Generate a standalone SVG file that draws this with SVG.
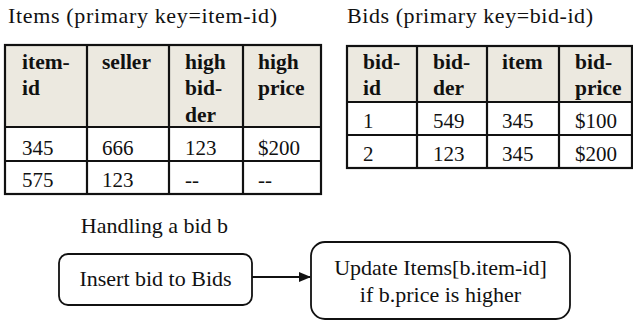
<svg xmlns="http://www.w3.org/2000/svg" width="633" height="322" viewBox="0 0 633 322">
<style>
text{font-family:'Liberation Serif','DejaVu Serif',serif;fill:#111}
.title{font-size:22px}
.hd{font-size:21.5px;font-weight:bold}
.cell{font-size:21px}
.hfill{fill:#ECE9E0}
.grid{stroke:#111;stroke-width:2.2;fill:none}
.box{fill:#fff;stroke:#111;stroke-width:1.8}
.lbl{font-size:22px;text-anchor:middle}
.conn{stroke:#111;stroke-width:1.8;fill:none}
</style>
<defs>
<marker id="arr" markerWidth="12" markerHeight="10" refX="11" refY="5" orient="auto" markerUnits="userSpaceOnUse">
<path d="M0,0 L12,5 L0,10 Z" fill="#111"/>
</marker>
</defs>
<g id="items-table">
<text class="title" x="8" y="23" textLength="269" lengthAdjust="spacing">Items (primary key=item-id)</text>
<rect class="hfill" x="5" y="45" width="316" height="82"/>
<rect x="5" y="127" width="316" height="67" fill="#fff"/>
<rect class="grid" x="5" y="45" width="316" height="149"/>
<path class="grid" d="M87,45V194M169,45V194M243,45V194M5,127H321M5,161H321"/>
<text class="hd" x="22" y="69">item-</text>
<text class="hd" x="22" y="95">id</text>
<text class="hd" x="102" y="69">seller</text>
<text class="hd" x="185" y="69">high</text>
<text class="hd" x="185" y="95">bid-</text>
<text class="hd" x="185" y="122">der</text>
<text class="hd" x="258" y="69">high</text>
<text class="hd" x="258" y="95">price</text>
<text class="cell" x="22" y="155">345</text>
<text class="cell" x="102" y="155">666</text>
<text class="cell" x="185" y="155">123</text>
<text class="cell" x="258" y="155">$200</text>
<text class="cell" x="22" y="187">575</text>
<text class="cell" x="102" y="187">123</text>
<text class="cell" x="185" y="187">--</text>
<text class="cell" x="258" y="187">--</text>
</g>
<g id="bids-table">
<text class="title" x="347" y="23" textLength="246" lengthAdjust="spacing">Bids (primary key=bid-id)</text>
<rect class="hfill" x="347" y="46" width="285" height="56"/>
<rect x="347" y="102" width="285" height="66" fill="#fff"/>
<rect class="grid" x="347" y="46" width="285" height="122"/>
<path class="grid" d="M417,46V168M487,46V168M559,46V168M347,102H632M347,135H632"/>
<text class="hd" x="363" y="69">bid-</text>
<text class="hd" x="363" y="95">id</text>
<text class="hd" x="433" y="69">bid-</text>
<text class="hd" x="433" y="95">der</text>
<text class="hd" x="502" y="69">item</text>
<text class="hd" x="575" y="69">bid-</text>
<text class="hd" x="575" y="95">price</text>
<text class="cell" x="363" y="128">1</text>
<text class="cell" x="433" y="128">549</text>
<text class="cell" x="502" y="128">345</text>
<text class="cell" x="575" y="128">$100</text>
<text class="cell" x="363" y="161">2</text>
<text class="cell" x="433" y="161">123</text>
<text class="cell" x="502" y="161">345</text>
<text class="cell" x="575" y="161">$200</text>
</g>
<g id="caption">
<text class="lbl" x="154.5" y="233">Handling a bid b</text>
</g>
<g id="insert-node">
<rect class="box" x="59" y="254" width="193" height="51" rx="9"/>
<text class="lbl" x="155.5" y="286">Insert bid to Bids</text>
</g>
<g id="update-node">
<rect class="box" x="311" y="242" width="259" height="77" rx="14"/>
<text class="lbl" x="440.5" y="275">Update Items[b.item-id]</text>
<text class="lbl" x="440.5" y="302">if b.price is higher</text>
</g>
<g id="connectors">
<path class="conn" d="M252,277H310" marker-end="url(#arr)"/>
</g>
</svg>
